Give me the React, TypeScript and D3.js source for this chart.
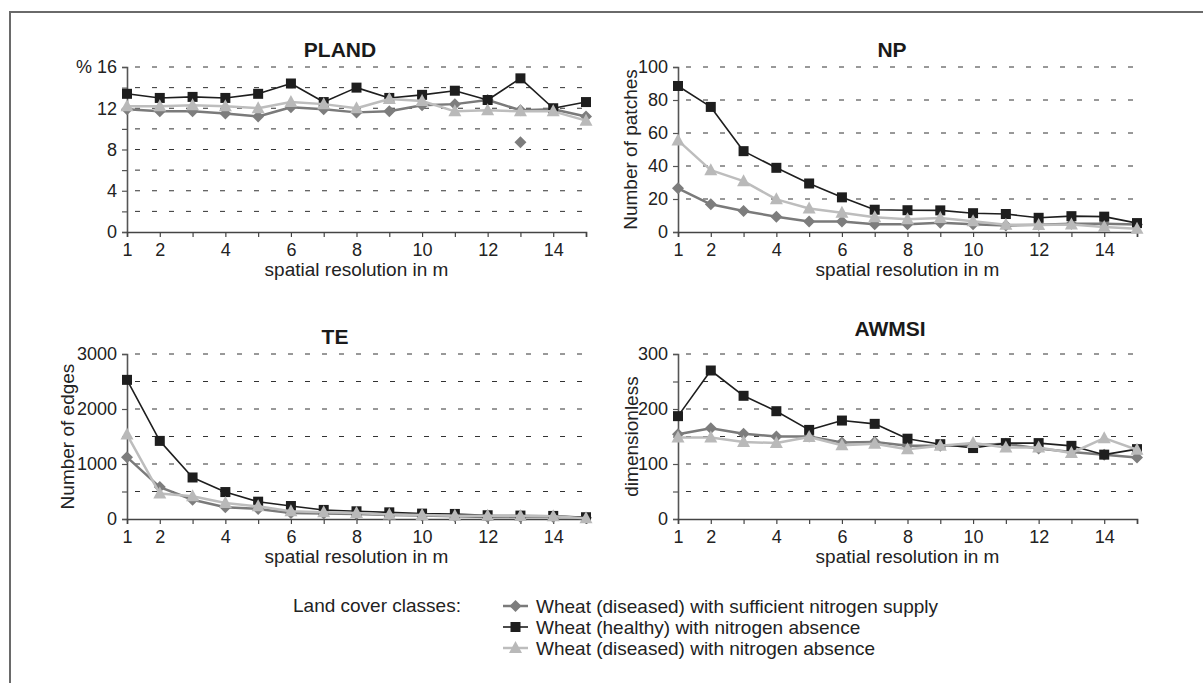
import React, { useEffect, useRef } from "react"
import * as d3 from "d3"

// x values (spatial resolution in m)
const resolutions = [1, 2, 3, 4, 5, 6, 7, 8, 9, 10, 11, 12, 13, 14, 15]
const xTickLabels = [1, 2, 4, 6, 8, 10, 12, 14]

const seriesNames = [
  "Wheat (diseased) with sufficient nitrogen supply",
  "Wheat (healthy) with nitrogen absence",
  "Wheat (diseased) with nitrogen absence",
]

// PLAND
const plandDiseasedSufficient = [11.9, 11.7, 11.7, 11.5, 11.2, 12.1, 11.9, 11.6, 11.7, 12.3, 12.4, 12.8, 11.8, 11.9, 11.2]
const plandHealthyAbsence = [13.4, 13.0, 13.1, 13.0, 13.4, 14.4, 12.6, 14.0, 13.0, 13.3, 13.7, 12.8, 14.9, 12.0, 12.6]
const plandDiseasedAbsence = [12.2, 12.2, 12.3, 12.2, 12.0, 12.6, 12.4, 12.0, 12.9, 12.7, 11.7, 11.8, 11.7, 11.7, 10.8]
const plandOutlier = [{ x: 13, y: 8.7 }]

// NP
const npDiseasedSufficient = [26.5, 16.8, 12.7, 9.3, 6.3, 6.3, 4.7, 4.7, 5.6, 4.7, 4.0, 4.4, 5.0, 5.0, 4.6]
const npHealthyAbsence = [88.5, 75.8, 49, 38.9, 29.4, 21, 13.5, 13.2, 13.1, 11.4, 10.9, 8.6, 9.6, 9.3, 5.4]
const npDiseasedAbsence = [55.5, 37.5, 30.8, 19.8, 14.2, 11.7, 8.9, 7.7, 8.5, 6.5, 4.4, 4.2, 4.6, 3.0, 2.0]

// TE
const teDiseasedSufficient = [1125, 580, 350, 215, 182, 110, 98, 90, 74, 62, 50, 38, 36, 36, 25]
const teHealthyAbsence = [2530, 1420, 755, 490, 315, 236, 165, 140, 121, 98, 92, 68, 62, 56, 32]
const teDiseasedAbsence = [1535, 462, 412, 290, 230, 140, 122, 110, 80, 73, 61, 60, 55, 48, 15]

// AWMSI
const awmsiDiseasedSufficient = [154, 165, 155, 150, 150, 139, 140, 133, 133, 134, 137, 128, 122, 117, 112]
const awmsiHealthyAbsence = [187, 270, 224, 196, 162, 179, 173, 146, 136, 129, 138, 138, 133, 117, 127]
const awmsiDiseasedAbsence = [148, 148, 140, 138, 149, 134, 137, 127, 133, 138, 130, 130, 120, 147, 126]

const FONT = "'Liberation Sans', Arial, Helvetica, sans-serif"

const styles = [
  { line: "#7a7a7a", width: 2.5, marker: "#7d7d7d", shape: "diamond" },
  { line: "#1e1e1e", width: 1.6, marker: "#1e1e1e", shape: "square" },
  { line: "#bdbdbd", width: 2.5, marker: "#b9b9b9", shape: "triangle" },
]

const panels = [
  {
    title: "PLAND", left: 127, top: 67, titleX: 340, titleY: 57,
    max: 16, grid: 2, labelStep: 4, yLabel: "", yLabelX: 0,
    series: [plandDiseasedSufficient, plandHealthyAbsence, plandDiseasedAbsence],
    extra: plandOutlier,
  },
  {
    title: "NP", left: 678, top: 67, titleX: 892, titleY: 57,
    max: 100, grid: 20, labelStep: 20, yLabel: "Number of patches", yLabelX: 630,
    series: [npDiseasedSufficient, npHealthyAbsence, npDiseasedAbsence],
    extra: [],
  },
  {
    title: "TE", left: 127, top: 354, titleX: 335, titleY: 344,
    max: 3000, grid: 500, labelStep: 1000, yLabel: "Number of edges", yLabelX: 67,
    series: [teDiseasedSufficient, teHealthyAbsence, teDiseasedAbsence],
    extra: [],
  },
  {
    title: "AWMSI", left: 678, top: 354, titleX: 890, titleY: 336,
    max: 300, grid: 50, labelStep: 100, yLabel: "dimensionless", yLabelX: 631,
    series: [awmsiDiseasedSufficient, awmsiHealthyAbsence, awmsiDiseasedAbsence],
    extra: [],
  },
]

function drawMarker(g, shape, cx, cy, fill) {
  if (shape === "square") {
    g.append("rect").attr("x", cx - 5).attr("y", cy - 5).attr("width", 10).attr("height", 10).attr("fill", fill)
  } else if (shape === "diamond") {
    g.append("path").attr("d", `M${cx},${cy - 6}L${cx + 6},${cy}L${cx},${cy + 6}L${cx - 6},${cy}Z`).attr("fill", fill)
  } else {
    g.append("path").attr("d", `M${cx},${cy - 7}L${cx + 6.5},${cy + 5}L${cx - 6.5},${cy + 5}Z`).attr("fill", fill)
  }
}

export default function App() {
  const ref = useRef(null)

  useEffect(() => {
    const svg = d3.select(ref.current)
    svg.selectAll("*").remove()

    // frame
    svg.append("path").attr("d", "M10,683V12H1203").attr("fill", "none").attr("stroke", "#6a6a6a").attr("stroke-width", 2)

    const w = 459
    const h = 165

    panels.forEach((p) => {
      const g = svg.append("g").attr("transform", `translate(${p.left},${p.top})`)
      const x = d3.scaleLinear().domain([1, 15]).range([0, w])
      const y = d3.scaleLinear().domain([0, p.max]).range([h, 0])

      // dashed grid
      const gridVals = d3.range(p.grid, p.max + 0.001, p.grid)
      g.selectAll(".grid").data(gridVals).enter().append("line")
        .attr("x1", 0).attr("x2", w)
        .attr("y1", (d) => y(d)).attr("y2", (d) => y(d))
        .attr("stroke", "#333").attr("stroke-width", 1).attr("stroke-dasharray", "5 12")
        .attr("stroke-dashoffset", -8)

      // y axis
      const yAxis = d3.axisLeft(y).tickValues(d3.range(0, p.max + 0.001, p.grid)).tickSize(5).tickPadding(5)
        .tickFormat((d) => (d % p.labelStep === 0 ? (p.title === "PLAND" && d === p.max ? "% " + d : String(d)) : ""))
      const ya = g.append("g").call(yAxis)
      ya.select(".domain").attr("stroke", "#555").attr("stroke-width", 1.6)
      ya.selectAll(".tick line").attr("stroke", "#555").attr("stroke-width", 1.2)
      ya.selectAll("text").attr("font-family", FONT).attr("font-size", 18).attr("fill", "#222")

      // x axis
      const xAxis = d3.axisBottom(x).tickValues(resolutions).tickSize(5).tickPadding(6)
        .tickFormat((d) => (xTickLabels.includes(d) ? String(d) : ""))
      const xa = g.append("g").attr("transform", `translate(0,${h})`).call(xAxis)
      xa.select(".domain").attr("stroke", "#444").attr("stroke-width", 1.6)
      xa.selectAll(".tick line").attr("stroke", "#444").attr("stroke-width", 1.2)
      xa.selectAll("text").attr("font-family", FONT).attr("font-size", 18).attr("fill", "#222")

      // lines + markers
      p.series.forEach((vals, i) => {
        const st = styles[i]
        const line = d3.line().x((d, j) => x(resolutions[j])).y((d) => y(d))
        g.append("path").datum(vals).attr("d", line).attr("fill", "none")
          .attr("stroke", st.line).attr("stroke-width", st.width).attr("stroke-linejoin", "round")
        const mg = g.append("g")
        vals.forEach((v, j) => drawMarker(mg, st.shape, x(resolutions[j]), y(v), st.marker))
      })
      p.extra.forEach((d) => drawMarker(g, styles[0].shape, x(d.x), y(d.y), styles[0].marker))

      // title
      svg.append("text").attr("x", p.titleX).attr("y", p.titleY).attr("text-anchor", "middle")
        .attr("font-family", FONT).attr("font-size", 21).attr("font-weight", "bold").attr("fill", "#1a1a1a")
        .text(p.title)

      // x label
      svg.append("text").attr("x", p.left + w / 2).attr("y", p.top + h + 44).attr("text-anchor", "middle")
        .attr("font-family", FONT).attr("font-size", 19).attr("fill", "#222")
        .text("spatial resolution in m")

      if (p.yLabel) {
        svg.append("text").attr("transform", `translate(${p.yLabelX + 7},${p.top + h / 2}) rotate(-90)`)
          .attr("text-anchor", "middle")
          .attr("font-family", FONT).attr("font-size", 19).attr("fill", "#222")
          .text(p.yLabel)
      }
    })

    // legend
    const lg = svg.append("g")
    lg.append("text").attr("x", 293).attr("y", 612).attr("font-family", FONT).attr("font-size", 19).attr("fill", "#222")
      .text("Land cover classes:")
    seriesNames.forEach((name, i) => {
      const cy = 606 + i * 21
      const st = styles[i]
      lg.append("line").attr("x1", 503).attr("x2", 528).attr("y1", cy).attr("y2", cy)
        .attr("stroke", st.line).attr("stroke-width", st.width)
      drawMarker(lg, st.shape, 515.5, cy, st.marker)
      lg.append("text").attr("x", 536).attr("y", cy + 6.5).attr("font-family", FONT).attr("font-size", 19).attr("fill", "#222")
        .text(name)
    })
  }, [])

  return (
    <svg ref={ref} width={1203} height={683} style={{ position: "absolute", left: 0, top: 0, background: "#fff" }} />
  )
}
